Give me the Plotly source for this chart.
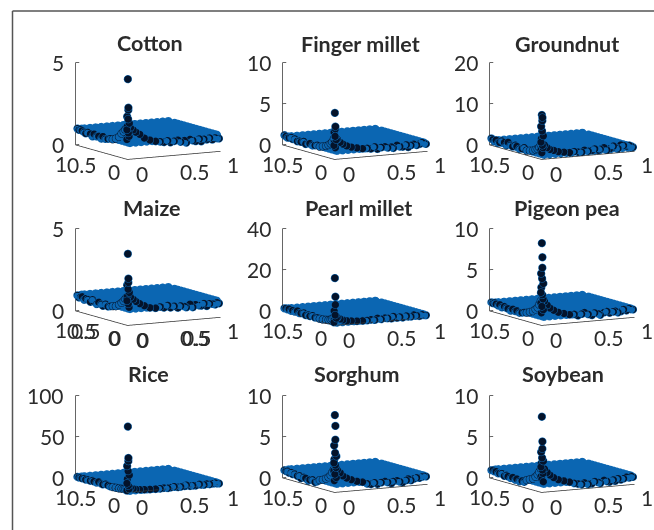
import plotly.graph_objects as go

crops = ["Cotton", "Finger millet", "Groundnut", "Maize", "Pearl millet", "Pigeon pea", "Rice", "Sorghum", "Soybean"]
z_max = [5, 10, 20, 5, 40, 10, 100, 10, 10]
z_ticks = [[0, 5], [0, 5, 10], [0, 10, 20], [0, 5], [0, 20, 40], [0, 5, 10], [0, 50, 100], [0, 5, 10], [0, 5, 10]]
xy_ticks = [0, 0.5, 1]

# spike near the origin (x, y ~ 0)
spike_z = [
    [4.88, 3.15, 3.0, 2.6, 2.45, 2.2, 2.0, 1.8, 1.6, 1.4, 1.2],
    [5.65, 4.0, 3.7, 3.3, 2.8, 2.4, 2.0, 1.7, 1.4],
    [10.8, 10.2, 9.4, 8.0, 6.9, 5.7, 5.0, 4.2, 3.4, 2.8, 2.2, 1.6],
    [4.35, 2.85, 2.6, 2.45, 2.2, 2.0, 1.75, 1.5, 1.3, 1.1],
    [23, 14, 10, 7, 5, 3.5, 2.5, 1.5],
    [10, 8.3, 7, 6.3, 5.7, 5.1, 4.6, 4.0, 3.7, 3.2, 2.7, 2.3, 1.9, 1.5],
    [80, 42, 38, 32, 26, 21, 16, 11, 8, 4, 2],
    [9.4, 8.1, 6.4, 5.7, 4.8, 4.4, 4.0, 3.6, 3.3, 3.0, 2.6, 2.2, 1.8, 1.4],
    [9.2, 6.2, 5.3, 4.9, 4.2, 3.8, 3.5, 3.1, 2.7, 2.3, 1.9, 1.6, 1.3],
]
spike_x = [0.01, 0.01, 0.015, 0.005, 0.01, 0.02, 0.01, 0.0, 0.015, 0.02, 0.005, 0.01, 0.02, 0.01]
spike_y = [0.01, 0.0, 0.01, 0.015, 0.005, 0.0, 0.02, 0.01, 0.01, 0.005, 0.02, 0.01, 0.0, 0.02]

# curved arms rising towards the origin
arm_pos = [0.04, 0.07, 0.10, 0.14, 0.19, 0.25, 0.31]
arm_z = [
    [1.9, 1.75, 1.6, 1.45, 1.2, 1.05, 0.95],
    [2.4, 2.0, 1.75, 1.5, 1.3, 1.15, 1.0],
    [3.4, 2.7, 2.2, 1.9, 1.5, 1.25, 1.05],
    [1.7, 1.55, 1.4, 1.25, 1.1, 0.95, 0.9],
    [3.6, 2.8, 2.2, 1.7, 1.4, 1.1, 1.0],
    [2.9, 2.4, 2.0, 1.7, 1.4, 1.2, 1.0],
    [5.0, 3.5, 2.6, 2.0, 1.5, 1.2, 1.0],
    [2.7, 2.3, 1.9, 1.6, 1.35, 1.1, 0.95],
    [2.8, 2.35, 2.0, 1.65, 1.35, 1.15, 0.95],
]

# points along the two near edges of the plate
edge_x_pos = [0.36, 0.40, 0.44, 0.47, 0.51, 0.55, 0.58, 0.62, 0.64, 0.68, 0.71, 0.74, 0.78, 0.80, 0.83, 0.86, 0.89, 0.92, 0.95, 0.97, 0.99]
edge_y_pos = [0.36, 0.40, 0.45, 0.50, 0.53, 0.58, 0.62, 0.67, 0.70, 0.74, 0.79, 0.83, 0.86, 0.90, 0.93, 0.96, 0.99]
edge_x_z = [
    [0.9, 0.85, 0.92, 0.8, 0.86, 0.9, 0.78, 0.84, 0.7, 0.88, 0.8, 0.74, 0.86, 0.7, 0.82, 0.78, 0.86, 0.75, 0.84, 0.8, 0.78],
    [1.0, 0.9, 1.1, 0.8, 0.95, 1.0, 0.85, 0.9, 0.75, 1.05, 0.85, 0.8, 1.0, 0.7, 0.9, 1.0, 0.85, 0.95, 1.1, 1.0, 0.9],
    [1.2, 1.0, 0.9, 1.3, 1.0, 1.1, 1.4, 1.0, 1.2, 1.5, 0.9, 1.1, 1.7, 1.3, 1.0, 1.8, 1.6, 1.4, 1.5, 1.3, 1.0],
    [0.95, 0.88, 1.0, 0.85, 0.92, 0.8, 0.9, 0.84, 0.78, 0.95, 0.75, 0.9, 0.82, 0.8, 0.92, 0.75, 0.88, 0.85, 0.8, 0.9, 0.85],
    [1.0, 1.2, 0.9, 1.6, 1.0, 1.4, 1.2, 0.9, 1.8, 1.0, 1.3, 0.9, 1.5, 1.1, 1.0, 1.7, 1.2, 0.9, 1.4, 1.1, 1.0],
    [1.0, 0.8, 0.95, 1.1, 0.85, 0.7, 0.95, 0.8, 0.65, 0.9, 1.0, 0.8, 0.9, 0.95, 0.75, 0.85, 1.05, 0.9, 1.1, 1.0, 0.95],
    [1.0, 1.4, 0.8, 1.2, 2.0, 0.9, 1.1, 1.5, 2.5, 1.0, 1.2, 0.9, 2.2, 1.4, 1.0, 1.8, 1.1, 1.6, 2.0, 1.2, 1.0],
    [0.7, 0.6, 0.75, 0.55, 0.7, 0.8, 0.65, 0.5, 0.7, 0.75, 0.6, 0.5, 0.7, 0.85, 0.65, 0.8, 0.9, 0.85, 0.95, 1.0, 0.95],
    [0.75, 0.65, 0.55, 0.7, 0.5, 0.55, 0.75, 0.6, 0.5, 0.8, 0.65, 0.55, 0.75, 0.6, 0.85, 0.7, 0.8, 0.95, 0.85, 1.0, 0.9],
]
edge_y_z = [
    [0.95, 0.9, 0.85, 0.95, 0.8, 0.9, 0.85, 0.95, 0.78, 0.9, 0.95, 0.85, 0.9, 0.95, 1.0, 0.95, 1.0],
    [1.1, 1.0, 0.9, 1.05, 1.0, 0.85, 1.1, 0.95, 1.0, 0.9, 1.1, 1.0, 1.15, 1.05, 1.0, 1.1, 1.2],
    [1.6, 1.2, 1.0, 1.4, 1.6, 1.1, 1.3, 1.8, 1.0, 1.5, 1.7, 1.2, 1.0, 1.5, 1.1, 1.4, 1.6],
    [0.85, 0.8, 0.9, 0.75, 0.82, 0.9, 0.75, 0.85, 0.95, 0.78, 0.88, 0.9, 0.8, 0.95, 0.9, 0.85, 0.95],
    [1.2, 1.0, 1.6, 1.0, 1.4, 0.9, 1.7, 1.2, 1.0, 1.8, 1.1, 1.4, 1.0, 1.6, 1.2, 1.5, 1.3],
    [0.95, 0.85, 0.75, 0.9, 0.8, 0.95, 0.7, 0.85, 0.9, 1.0, 0.8, 1.05, 0.9, 1.0, 1.1, 1.0, 1.05],
    [1.0, 1.6, 2.2, 0.9, 1.3, 2.6, 1.0, 1.5, 2.2, 1.1, 1.4, 0.9, 1.8, 1.2, 1.6, 1.1, 1.4],
    [0.7, 0.55, 0.75, 0.65, 0.5, 0.7, 0.75, 0.55, 0.8, 0.7, 0.85, 0.75, 0.9, 0.8, 0.95, 0.9, 0.95],
    [0.65, 0.7, 0.55, 0.75, 0.6, 0.8, 0.65, 0.75, 0.85, 0.7, 0.9, 0.85, 0.8, 0.95, 0.9, 1.0, 0.95],
]

# blue plate outline
plate_x = [0.06, 1.0, 1.0, 0.06]
plate_y = [0.06, 0.06, 1.0, 1.0]
plate_z = [1.0, 1.0, 1.0, 1.0]

# blue points around the rim of the plate
rim_x = [0.06, 0.12, 0.18, 0.24, 0.30, 0.36, 0.42, 0.48, 0.54, 0.60, 0.66, 0.72, 0.78, 0.84, 0.90, 0.96, 0.99,
         0.99, 0.99, 0.99, 0.99, 0.99, 0.99, 0.99, 0.99, 0.99, 0.99, 0.99, 0.99, 0.99, 0.99, 0.99,
         0.93, 0.87, 0.81, 0.75, 0.69, 0.63, 0.57, 0.51, 0.45, 0.39, 0.33, 0.27, 0.21, 0.15, 0.09, 0.06,
         0.06, 0.06, 0.06, 0.06, 0.06, 0.06, 0.06, 0.06, 0.06, 0.06, 0.06, 0.06, 0.06, 0.06, 0.06, 0.06]
rim_y = [0.06, 0.06, 0.06, 0.06, 0.06, 0.06, 0.06, 0.06, 0.06, 0.06, 0.06, 0.06, 0.06, 0.06, 0.06, 0.06, 0.06,
         0.09, 0.15, 0.21, 0.27, 0.33, 0.39, 0.45, 0.51, 0.57, 0.63, 0.69, 0.75, 0.81, 0.87, 0.99,
         0.99, 0.99, 0.99, 0.99, 0.99, 0.99, 0.99, 0.99, 0.99, 0.99, 0.99, 0.99, 0.99, 0.99, 0.99, 0.99,
         0.93, 0.87, 0.81, 0.75, 0.69, 0.63, 0.57, 0.51, 0.45, 0.39, 0.33, 0.27, 0.21, 0.15, 0.09, 0.06]
rim_z_value = 0.95

# extra overprinted tick labels seen on the Maize panel: (text, x, y, dx, dy)
maize_ghosts = [("0.5", 0, 0.5, -16, 12), ("0", 0, 0, -12, 12), ("0", 0, 0, 16, 14), ("0.5", 0.5, 0, 23, 16)]

BLUE = "#0b66b2"
DARK = "#04132a"
AXIS = "#333333"
TEXT = "#2b2b2b"

# page-pixel layout of the small multiples
W, H = 654, 530
centers_x = [148, 355, 562]
centers_y = [107, 273, 440]
dom_w, dom_h = 184, 160
title_px = [(150, 43), (360, 44), (567, 44), (152, 208), (358, 208), (567, 208), (148, 374), (357, 374), (563, 374)]

az_dir = (-0.4868, -0.8735)
el_c, el_s = 0.9877, 0.1564
eye_d = 1.35
aspect_xy = 1.333
aspect_z = 1.04

fig = go.Figure()
scenes = {}
annots = []


def label(text, x, y, z, dx, dy, anchor="center"):
    return dict(x=x, y=y, z=z, text=text, showarrow=False, xshift=dx, yshift=-dy,
                xanchor=anchor, yanchor="middle",
                font=dict(family="Lato", size=21, color=TEXT))


for i, name in enumerate(crops):
    sid = "scene" if i == 0 else f"scene{i + 1}"
    zm = z_max[i]
    # plate
    fig.add_trace(go.Mesh3d(x=plate_x, y=plate_y, z=plate_z, color=BLUE, opacity=1,
                            flatshading=True, lighting=dict(ambient=1, diffuse=0, specular=0, roughness=1, fresnel=0),
                            delaunayaxis="z", hoverinfo="skip", scene=sid, showscale=False))
    fig.add_trace(go.Scatter3d(x=rim_x, y=rim_y, z=[rim_z_value] * len(rim_x), mode="lines+markers",
                               line=dict(color=BLUE, width=8),
                               marker=dict(size=5.2, color=BLUE, line=dict(color=BLUE, width=0)),
                               hoverinfo="skip", showlegend=False, scene=sid))
    # axes
    ax_x, ax_y, ax_z = [1, 0, 0, None], [0, 0, 1, None], [0, 0, 0, None]
    ax_x += [0, 0, None]
    ax_y += [1, 1, None]
    ax_z += [0, zm, None]
    for t in z_ticks[i]:
        ax_x += [0, 0.04, None]
        ax_y += [1, 1, None]
        ax_z += [t, t, None]
    fig.add_trace(go.Scatter3d(x=ax_x, y=ax_y, z=ax_z, mode="lines", line=dict(color=AXIS, width=1.5),
                               hoverinfo="skip", showlegend=False, scene=sid))
    # dark points
    sz = spike_z[i]
    n_ex, n_ey = len(edge_x_pos), len(edge_y_pos)
    px = list(spike_x[:len(sz)]) + arm_pos + edge_x_pos + [0.015] * n_ey
    py = list(spike_y[:len(sz)]) + [0.015] * len(arm_pos) + [0.015] * n_ex + edge_y_pos
    pz = list(sz) + arm_z[i] + edge_x_z[i] + edge_y_z[i]
    fig.add_trace(go.Scatter3d(x=px, y=py, z=pz, mode="markers",
                               marker=dict(size=4.5, color=DARK, line=dict(color=BLUE, width=1.2)),
                               hoverinfo="skip", showlegend=False, scene=sid))
    # left arm: hollow rings
    fig.add_trace(go.Scatter3d(x=[0.015] * len(arm_pos), y=arm_pos, z=arm_z[i], mode="markers",
                               marker=dict(size=4.5, color=BLUE, line=dict(color=DARK, width=0.8)),
                               hoverinfo="skip", showlegend=False, scene=sid))
    # blue points overprinting every other dark edge point
    over_x = [v - 0.02 for v in edge_x_pos[::2]] + [0.0] * len(edge_y_pos[::2])
    over_y = [0.0] * len(edge_x_pos[::2]) + [v - 0.02 for v in edge_y_pos[::2]]
    over_z = edge_x_z[i][::2] + edge_y_z[i][::2]
    fig.add_trace(go.Scatter3d(x=over_x, y=over_y, z=over_z, mode="markers",
                               marker=dict(size=3.5, color=BLUE, line=dict(color=BLUE, width=0)),
                               hoverinfo="skip", showlegend=False, scene=sid))

    r, c = i // 3, i % 3
    x0 = (centers_x[c] - dom_w / 2) / W
    x1 = (centers_x[c] + dom_w / 2) / W
    y1 = 1 - (centers_y[r] - dom_h / 2) / H
    y0 = 1 - (centers_y[r] + dom_h / 2) / H
    hidden = dict(visible=False, showspikes=False)
    sc_ann = []
    for t in z_ticks[i]:
        sc_ann.append(label(str(t), 0, 1, t, -9, 0, "right"))
    sc_ann.append(label("1", 0, 1, 0, -14, 19))
    sc_ann.append(label("0.5", 0, 0.5, 0, -20, 12))
    sc_ann.append(label("0", 0, 0, 0, -13, 12))
    sc_ann.append(label("0", 0, 0, 0, 15, 14))
    sc_ann.append(label("0.5", 0.5, 0, 0, 21, 16))
    sc_ann.append(label("1", 1, 0, 0, 12, 13))
    if name == "Maize":
        for g in maize_ghosts:
            sc_ann.append(label(g[0], g[1], g[2], 0, g[3], g[4]))
    scenes[sid] = dict(
        domain=dict(x=[x0, x1], y=[y0, y1]),
        xaxis=dict(range=[0, 1], **hidden),
        yaxis=dict(range=[0, 1], **hidden),
        zaxis=dict(range=[0, zm], **hidden),
        aspectmode="manual",
        aspectratio=dict(x=aspect_xy, y=aspect_xy, z=aspect_z),
        bgcolor="white",
        annotations=sc_ann,
        camera=dict(
            projection=dict(type="orthographic"),
            up=dict(x=0, y=0, z=1),
            center=dict(x=0, y=0, z=0),
            eye=dict(x=eye_d * az_dir[0] * el_c, y=eye_d * az_dir[1] * el_c, z=eye_d * el_s),
        ),
    )
    tx, ty = title_px[i]
    annots.append(dict(x=tx / W, y=1 - ty / H, xref="paper", yref="paper", text=f"<b>{name}</b>", showarrow=False,
                       xanchor="center", yanchor="middle", font=dict(family="Lato", size=21.5, color=TEXT)))

fig.update_layout(
    width=W, height=H, margin=dict(l=0, r=0, t=0, b=0), paper_bgcolor="white", showlegend=False,
    annotations=annots,
    shapes=[
        dict(type="line", xref="paper", yref="paper", x0=12.5 / W, x1=12.5 / W, y0=0, y1=1 - 11 / H, line=dict(color="#555555", width=1.5)),
        dict(type="line", xref="paper", yref="paper", x0=12.5 / W, x1=1, y0=1 - 11 / H, y1=1 - 11 / H, line=dict(color="#555555", width=1.5)),
    ],
    **scenes,
)
fig.write_html("out.html", config=dict(displayModeBar=False),
               post_script="document.body.style.margin='0';")
